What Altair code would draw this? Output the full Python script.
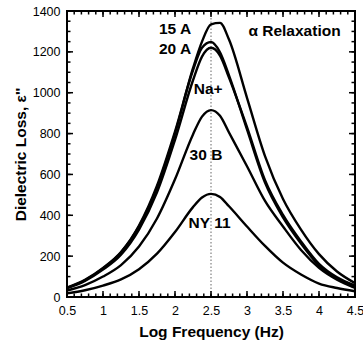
import altair as alt
import pandas as pd

# shared x grid (log frequency)
X = [0.5, 0.75, 1.0, 1.25, 1.5, 1.75, 2.0, 2.25, 2.375, 2.5, 2.625, 2.75,
     3.0, 3.25, 3.5, 3.75, 4.0, 4.25, 4.5]

s15A = [45, 82, 140, 218, 345, 535, 800, 1120, 1250, 1335, 1342, 1260,
        975, 690, 480, 330, 210, 125, 68]
s20A = [46, 84, 142, 220, 350, 545, 810, 1110, 1220, 1248, 1198, 1085,
        820, 560, 390, 262, 155, 92, 56]
sNa = [43, 79, 134, 207, 330, 512, 769, 1061, 1177, 1220, 1182, 1074,
       832, 572, 402, 272, 162, 96, 55]
s30B = [32, 58, 100, 156, 247, 384, 576, 796, 883, 915, 887, 805,
        640, 470, 345, 230, 143, 85, 45]
sNY = [18, 33, 56, 86, 136, 212, 318, 440, 487, 505, 490, 444,
       345, 250, 168, 110, 66, 44, 28]

series_names = ["15 A", "20 A", "Na+", "30 B", "NY 11"]
series_vals = [s15A, s20A, sNa, s30B, sNY]

label_text = ["15 A", "20 A", "Na+", "30 B", "NY 11", "α Relaxation"]
label_x = [2.0, 2.0, 2.46, 2.43, 2.48, 3.66]
label_y = [1313, 1213, 1020, 693, 361, 1302]

x_minor = [round(0.5 + 0.1 * i, 2) for i in range(41)]
x_major = [0.5, 1.0, 1.5, 2.0, 2.5, 3.0, 3.5, 4.0, 4.5]
y_minor = [50 * i for i in range(29)]
y_major = [0, 200, 400, 600, 800, 1000, 1200, 1400]
peak_x = [2.5]

W, H = 288, 286
FONT = "Liberation Sans"

rows = []
for name, vals in zip(series_names, series_vals):
    for xv, yv in zip(X, vals):
        rows.append({"series": name, "x": xv, "y": yv})
df = pd.DataFrame(rows)

xs = alt.Scale(domain=[0.5, 4.5], nice=False, zero=False)
ys = alt.Scale(domain=[0, 1400], nice=False)
xaxis = alt.Axis(title="Log Frequency (Hz)", values=x_major, format="~g",
                 ticks=False, domain=False, grid=False, labelPadding=7,
                 titlePadding=8, labelFlush=False)
yaxis = alt.Axis(title="Dielectric Loss, ε''", values=y_major, format="d",
                 ticks=False, domain=False, grid=False, labelPadding=7,
                 titlePadding=4)


def X_():
    return alt.X("x:Q", scale=xs, axis=xaxis)


def Y_():
    return alt.Y("y:Q", scale=ys, axis=yaxis)


lines = alt.Chart(df).mark_line(color="black", strokeWidth=2.4,
                                interpolate="monotone").encode(
    x=X_(), y=Y_(), detail="series:N")

dotted = alt.Chart(pd.DataFrame({"x": peak_x})).mark_rule(
    color="#666666", strokeWidth=1, strokeDash=[1.5, 2]).encode(
    x=X_(), y=alt.value(0), y2=alt.value(H))

labels = alt.Chart(pd.DataFrame({"x": label_x, "y": label_y, "t": label_text})).mark_text(
    font=FONT, fontWeight="bold", fontSize=15.5, color="black").encode(
    x=X_(), y=Y_(), text="t:N")


def xticks(vals, length):
    d = pd.DataFrame({"x": vals})
    bot = alt.Chart(d).mark_rule(color="black", strokeWidth=1.5).encode(
        x=X_(), y=alt.value(H), y2=alt.value(H - length))
    top = alt.Chart(d).mark_rule(color="black", strokeWidth=1.5).encode(
        x=X_(), y=alt.value(0), y2=alt.value(length))
    return [bot, top]


def yticks(vals, length):
    d = pd.DataFrame({"y": vals})
    left = alt.Chart(d).mark_rule(color="black", strokeWidth=1.5).encode(
        y=Y_(), x=alt.value(0), x2=alt.value(length))
    right = alt.Chart(d).mark_rule(color="black", strokeWidth=1.5).encode(
        y=Y_(), x=alt.value(W), x2=alt.value(W - length))
    return [left, right]


layers = [dotted, lines, labels]
layers += xticks(x_minor, 3.5) + xticks(x_major, 6)
layers += yticks(y_minor, 3.5) + yticks(y_major, 6)

chart = alt.layer(*layers).properties(
    width=W, height=H,
    autosize=alt.AutoSizeParams(type="none"),
    padding={"left": 67, "top": 11, "right": 8, "bottom": 48},
    background="white",
).configure_view(stroke="black", strokeWidth=2).configure_axis(
    labelFont=FONT, labelFontSize=12.5, labelColor="black",
    titleFont=FONT, titleFontSize=15.5, titleFontWeight="bold", titleColor="black",
)

chart.save("out.html", embed_options={"renderer": "svg", "actions": False})
